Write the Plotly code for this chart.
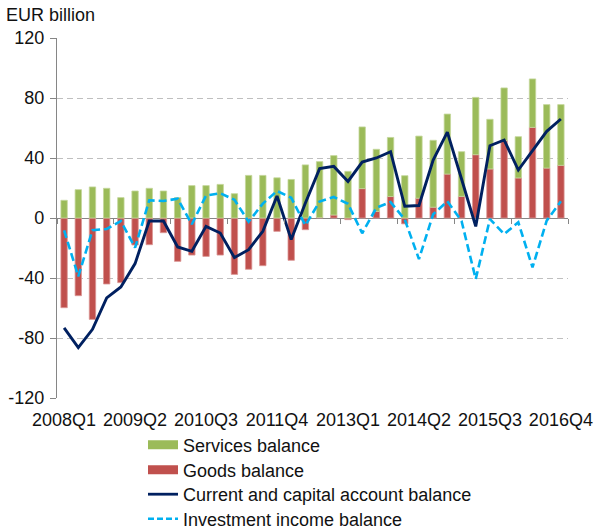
import plotly.graph_objects as go

quarters = ["2008Q1", "2008Q2", "2008Q3", "2008Q4", "2009Q1", "2009Q2", "2009Q3", "2009Q4",
            "2010Q1", "2010Q2", "2010Q3", "2010Q4", "2011Q1", "2011Q2", "2011Q3", "2011Q4",
            "2012Q1", "2012Q2", "2012Q3", "2012Q4", "2013Q1", "2013Q2", "2013Q3", "2013Q4",
            "2014Q1", "2014Q2", "2014Q3", "2014Q4", "2015Q1", "2015Q2", "2015Q3", "2015Q4",
            "2016Q1", "2016Q2", "2016Q3", "2016Q4"]

services = [11.8, 18.9, 20.7, 19.8, 13.6, 18.0, 19.8, 18.0,
            13.6, 21.6, 21.6, 22.4, 16.2, 28.4, 28.4, 26.8,
            25.7, 35.4, 37.3, 39.6, 31.1, 41.1, 41.4, 39.4,
            28.2, 41.4, 44.6, 40.0, 29.8, 38.2, 33.1, 35.1,
            27.5, 32.3, 42.3, 40.5]

goods = [-59.8, -51.8, -67.6, -44.0, -43.1, -18.0, -17.8, -9.8,
         -28.9, -24.7, -25.6, -24.7, -37.6, -34.2, -31.8, -8.9,
         -28.2, -7.8, 0.3, 2.0, -1.1, 19.6, 4.4, 14.3,
         -3.9, 13.2, 7.2, 29.3, 14.4, 42.2, 32.7, 51.6,
         26.7, 60.4, 33.3, 35.1]

current_capital = [-73.3, -86.4, -74.2, -53.3, -46.0, -30.4, -2.0, -2.0,
                   -19.3, -22.2, -5.6, -10.0, -26.4, -21.1, -8.9, 14.7,
                   -14.4, 10.0, 32.9, 34.4, 24.4, 37.3, 40.0, 44.2,
                   7.8, 8.3, 38.6, 57.3, 26.0, -5.6, 48.2, 52.0,
                   32.0, 45.0, 57.8, 66.0]

investment_income = [-8.2, -38.9, -8.2, -7.3, -2.0, -19.8, 11.8, 11.3,
                     12.9, -4.2, 15.0, 16.5, 12.2, -2.5, 9.6, 18.0,
                     13.5, -4.9, 11.0, 14.0, 9.5, -10.2, 6.8, 10.6,
                     -1.0, -27.4, 2.5, 11.1, -2.0, -40.7, -0.7, -10.7,
                     -2.9, -32.9, -1.8, 11.1]

x_tick_labels = ["2008Q1", "2009Q2", "2010Q3", "2011Q4", "2013Q1", "2014Q2", "2015Q3", "2016Q4"]
y_tick_values = [120, 80, 40, 0, -40, -80, -120]
y_tick_labels = ["120", "80", "40", "0", "-40", "-80", "-120"]

GREEN = "#9BBB59"
RED = "#C0504D"
NAVY = "#002060"
CYAN = "#00B0F0"
FONT = "Liberation Sans, Arial, sans-serif"
TXT = "#111111"

W, H = 596, 529
L, R, T, B = 57, 28, 38, 131

pos = {q: i for i, q in enumerate(quarters)}
x = [pos[q] for q in quarters]
x_tick_pos = [pos[q] for q in x_tick_labels]
year_bounds = [pos[q] - 0.5 for q in quarters if q.endswith("Q1")] + [len(quarters) - 0.5]

fig = go.Figure()

fig.add_bar(x=x, y=goods, width=0.45, marker=dict(color=RED, line=dict(color="#DA9694", width=0.8)),
            showlegend=False, name="Goods balance")
fig.add_bar(x=x, y=services, width=0.45, marker=dict(color=GREEN, line=dict(color="#C4D79B", width=0.8)),
            showlegend=False, name="Services balance")
fig.add_scatter(x=x, y=current_capital, mode="lines", line=dict(color=NAVY, width=2.9),
                showlegend=False, name="Current and capital account balance")
fig.add_scatter(x=x, y=investment_income, mode="lines", line=dict(color=CYAN, width=2.6, dash="8px,4px"),
                showlegend=False, name="Investment income balance")

# legend entries, each in its own legend so the rows can be spaced like the reference
legend_rows = [
    ("Services balance", dict(color=GREEN, width=9), "legend", 445),
    ("Goods balance", dict(color=RED, width=9), "legend2", 470),
    ("Current and capital account balance", dict(color=NAVY, width=2.8), "legend3", 494.5),
    ("Investment income balance", dict(color=CYAN, width=2.6, dash="6px,3px"), "legend4", 519),
]
legend_layout = {}
for name, line, lg, ymid in legend_rows:
    fig.add_scatter(x=[None], y=[None], mode="lines", line=line, name=name, legend=lg)
    legend_layout[lg] = dict(xref="container", yref="container", x=143 / W, xanchor="left",
                             y=1 - ymid / H, yanchor="middle",
                             font=dict(size=18, color=TXT), bgcolor="rgba(0,0,0,0)",
                             tracegroupgap=0, itemwidth=30)

# axis used only for the year tick marks on the zero line
fig.add_scatter(x=[0], y=[0], xaxis="x2", mode="markers", marker=dict(opacity=0),
                showlegend=False, hoverinfo="skip")

fig.update_layout(
    width=W, height=H,
    margin=dict(l=L, r=R, t=T, b=B, autoexpand=False),
    paper_bgcolor="white", plot_bgcolor="white",
    barmode="relative",
    font=dict(family=FONT, size=18, color=TXT),
    xaxis=dict(range=[-0.5, len(quarters) - 0.5], tickmode="array", tickvals=x_tick_pos,
               ticktext=x_tick_labels, showgrid=False, zeroline=False, showline=False,
               ticks="outside", ticklen=5, tickcolor="rgba(0,0,0,0)",
               automargin=False, tickfont=dict(size=18, color=TXT)),
    xaxis2=dict(overlaying="x", anchor="free", position=0.5, side="bottom",
                range=[-0.5, len(quarters) - 0.5],
                tickmode="array", tickvals=year_bounds, ticks="outside", ticklen=5,
                tickcolor="#868686", tickwidth=1, showticklabels=False, showgrid=False,
                zeroline=False, showline=False, automargin=False),
    yaxis=dict(range=[-120, 120], tickmode="array", tickvals=y_tick_values, ticktext=y_tick_labels,
               showgrid=True, gridcolor="#BFBFBF", griddash="6px,4px", gridwidth=1,
               zeroline=True, zerolinecolor="#868686", zerolinewidth=1.3,
               showline=True, linecolor="#868686", linewidth=1.3,
               ticks="outside", ticklen=6, tickcolor="#868686", automargin=False,
               ticklabelstandoff=2,
               tickfont=dict(size=18, color=TXT)),
    annotations=[dict(text="EUR billion", xref="paper", yref="paper", x=-(L - 4) / (W - L - R),
                      y=1 + (T - 15) / (H - T - B),
                      xanchor="left", yanchor="middle", showarrow=False,
                      font=dict(size=18, color=TXT))],
    **legend_layout,
)

fig.write_html("out.html", config={"displayModeBar": False},
               post_script="document.body.style.margin='0';")
